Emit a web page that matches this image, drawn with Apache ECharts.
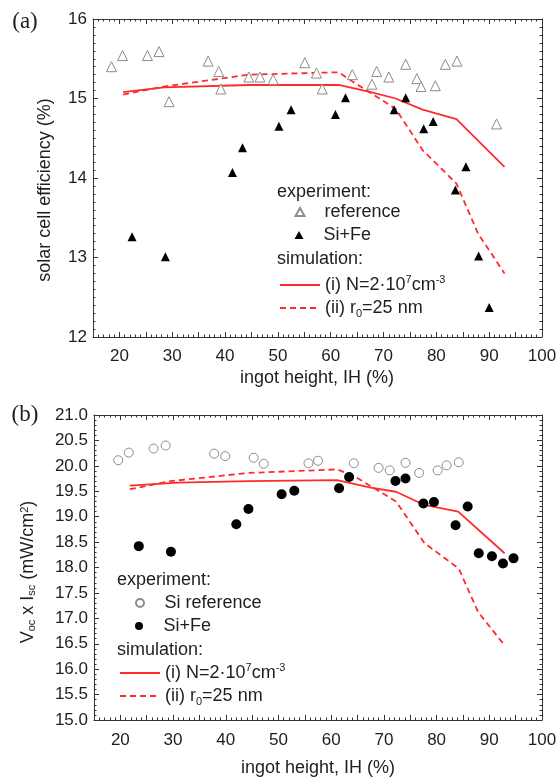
<!DOCTYPE html>
<html>
<head>
<meta charset="utf-8">
<script src="https://cdn.jsdelivr.net/npm/echarts@6/dist/echarts.min.js"></script>
<style>
html,body{margin:0;padding:0;background:#fff;}
#chart{width:559px;height:778px;}
</style>
</head>
<body>
<div id="chart"></div>
<script>
// panel (a): solar cell efficiency vs ingot height
var refAX = [18.5, 20.6, 25.3, 27.5, 29.4, 36.8, 38.8, 39.2, 44.5, 46.6, 49.1, 55.1, 57.3, 58.4, 64.1, 67.8, 68.7, 71.0, 74.2, 76.3, 77.1, 79.8, 81.7, 83.9, 91.4];
var refAY = [15.40, 15.54, 15.54, 15.59, 14.96, 15.47, 15.34, 15.12, 15.27, 15.27, 15.24, 15.45, 15.32, 15.12, 15.30, 15.18, 15.34, 15.27, 15.43, 15.25, 15.15, 15.16, 15.43, 15.47, 14.68];
var feAX = [22.4, 28.7, 41.4, 43.3, 50.2, 52.5, 60.9, 62.8, 72.0, 74.2, 77.6, 79.4, 83.6, 85.6, 88.0, 90.0];
var feAY = [13.26, 13.01, 14.07, 14.38, 14.65, 14.86, 14.80, 15.01, 14.86, 15.01, 14.62, 14.71, 13.85, 14.14, 13.02, 12.37];
var simIAX = [20.7, 28.4, 44.5, 61.5, 67.6, 72.3, 77.4, 83.8, 92.9];
var simIAY = [15.08, 15.14, 15.17, 15.17, 15.08, 15.00, 14.86, 14.74, 14.14];
var simIIAX = [20.7, 28.4, 44.5, 61.5, 64.0, 72.3, 77.4, 83.8, 87.9, 92.9];
var simIIAY = [15.05, 15.15, 15.30, 15.33, 15.22, 14.87, 14.35, 13.93, 13.30, 12.80];

// panel (b): Voc x Isc vs ingot height
var refBX = [19.6, 21.6, 26.3, 28.6, 37.8, 39.9, 45.3, 47.2, 55.7, 57.5, 64.3, 69.0, 71.1, 74.1, 76.7, 80.2, 81.9, 84.2];
var refBY = [20.11, 20.26, 20.34, 20.40, 20.24, 20.19, 20.16, 20.04, 20.05, 20.10, 20.05, 19.96, 19.91, 20.06, 19.86, 19.91, 20.01, 20.07];
var feBX = [23.5, 29.6, 42.0, 44.3, 50.6, 53.0, 61.5, 63.4, 72.2, 74.1, 77.5, 79.5, 83.6, 85.9, 88.0, 90.5, 92.6, 94.6];
var feBY = [18.42, 18.31, 18.85, 19.15, 19.44, 19.51, 19.56, 19.78, 19.70, 19.75, 19.26, 19.29, 18.83, 19.20, 18.28, 18.22, 18.08, 18.18];
var simIBX = [21.8, 30.9, 44.5, 61.1, 67.5, 72.3, 77.7, 84.1, 92.9];
var simIBY = [19.61, 19.67, 19.70, 19.72, 19.57, 19.49, 19.23, 19.10, 18.28];
var simIIBX = [21.8, 29.6, 44.3, 61.2, 64.8, 72.3, 77.7, 84.2, 87.9, 92.9];
var simIIBY = [19.54, 19.70, 19.86, 19.93, 19.77, 19.30, 18.48, 17.98, 17.12, 16.47];

var legendText = {
  refA: '{t|reference}',
  feA: '{t|Si+Fe}',
  refB: '{t|Si reference}',
  feB: '{t|Si+Fe}',
  simIA: '(i) N=2·10{sup|7}cm{sup|-3}',
  simIIA: '(ii) r{sub|0}=25 nm',
  simIB: '(i) N=2·10{sup|7}cm{sup|-3}',
  simIIB: '(ii) r{sub|0}=25 nm'
};

var FONT = "'Liberation Sans', Arial, Helvetica, sans-serif";
var RED = '#ff2b2b';
var GREY = '#8c8c8c';
var AXC = '#333';
var TXT = '#1e1e1e';

var rich = {
  sup: {fontSize: 11, lineHeight: 11, verticalAlign: 'top', fontFamily: FONT, color: TXT},
  sub: {fontSize: 11, lineHeight: 11, verticalAlign: 'bottom', fontFamily: FONT, color: TXT},
  t: {fontSize: 18, lineHeight: 22, padding: [0, 0, 0, 15], fontFamily: FONT, color: TXT}
};

function pairs(xs, ys) {
  return xs.map(function (x, i) { return [x, ys[i]]; });
}

// x axis (bottom with labels, top as mirror frame)
function xAx(grid, pos, labels, margin) {
  return {
    type: 'value', gridIndex: grid, position: pos,
    min: 15, max: 100, interval: 5,
    axisLine: {show: true, onZero: false, lineStyle: {color: AXC, width: 1}},
    axisTick: {show: true, inside: true, length: 5, lineStyle: {color: AXC}},
    minorTick: {show: true, splitNumber: 5, length: 2.5, lineStyle: {color: AXC}},
    splitLine: {show: false},
    axisLabel: {
      show: labels, margin: margin, fontSize: 17, color: TXT, fontFamily: FONT,
      formatter: function (v) { return v % 10 === 0 ? String(v) : ''; }
    }
  };
}

function yAx(grid, pos, labels, min, max, step, minor, fmt) {
  return {
    type: 'value', gridIndex: grid, position: pos,
    min: min, max: max, interval: step,
    axisLine: {show: true, onZero: false, lineStyle: {color: AXC, width: 1}},
    axisTick: {show: true, inside: true, length: 5, lineStyle: {color: AXC}},
    minorTick: {show: true, splitNumber: minor, length: 2.5, lineStyle: {color: AXC}},
    splitLine: {show: false},
    axisLabel: {show: labels, margin: 6, fontSize: 17, color: TXT, fontFamily: FONT, formatter: fmt}
  };
}

// one legend block per row so every row sits where it does in the figure
function markLegend(name, left, top) {
  return {
    data: [name], left: left, top: top, orient: 'vertical', padding: 0,
    itemWidth: 9, itemHeight: 8, selectedMode: false,
    textStyle: {fontSize: 18, lineHeight: 22, color: TXT, fontFamily: FONT, rich: rich},
    formatter: function (n) { return legendText[n]; }
  };
}

function lineLegend(name, left, top) {
  return {
    data: [name], left: left, top: top, orient: 'vertical', padding: 0,
    itemWidth: 40, itemHeight: 8, selectedMode: false,
    itemStyle: {opacity: 0},
    textStyle: {fontSize: 18, lineHeight: 22, color: TXT, fontFamily: FONT, rich: rich},
    formatter: function (n) { return legendText[n]; }
  };
}

function label(text, x, y, size, rot, family) {
  return {
    type: 'text', x: x, y: y, rotation: rot || 0, silent: true,
    style: {
      text: text, fill: TXT, fontSize: size, fontFamily: family || FONT,
      align: rot ? 'center' : 'left', verticalAlign: 'middle',
      rich: {
        sup: {fontSize: 11, lineHeight: 11, verticalAlign: 'top', fontFamily: FONT, fill: TXT},
        sub: {fontSize: 11, lineHeight: 11, verticalAlign: 'bottom', fontFamily: FONT, fill: TXT}
      }
    }
  };
}

function centered(text, x, y, size, family) {
  var t = label(text, x, y, size, 0, family);
  t.style.align = 'center';
  return t;
}

var chart = echarts.init(document.getElementById('chart'), null, {renderer: 'canvas'});

var option = {
  animation: false,
  backgroundColor: '#fff',
  grid: [
    {left: 93, top: 19, width: 449, height: 318, outerBoundsMode: 'none'},
    {left: 94, top: 415, width: 448, height: 305, outerBoundsMode: 'none'}
  ],
  xAxis: [
    xAx(0, 'bottom', true, 11),
    xAx(0, 'top', false, 0),
    xAx(1, 'bottom', true, 12),
    xAx(1, 'top', false, 0)
  ],
  yAxis: [
    yAx(0, 'left', true, 12, 16, 1, 10, function (v) { return String(v); }),
    yAx(0, 'right', false, 12, 16, 1, 10),
    yAx(1, 'left', true, 15, 21, 0.5, 5, function (v) { return v.toFixed(1); }),
    yAx(1, 'right', false, 15, 21, 0.5, 5)
  ],
  legend: [
    markLegend('refA', 294.5, 201),
    markLegend('feA', 294.5, 224),
    lineLegend('simIA', 279, 274),
    lineLegend('simIIA', 279, 297),
    markLegend('refB', 135, 592),
    markLegend('feB', 135, 615),
    lineLegend('simIB', 119, 662),
    lineLegend('simIIB', 119, 685)
  ],
  graphic: [
    centered('(a)', 25, 22, 23, "'Liberation Serif', 'Times New Roman', serif"),
    centered('(b)', 25, 415, 23, "'Liberation Serif', 'Times New Roman', serif"),
    label('solar cell efficiency (%)', 45, 190, 18, Math.PI / 2),
    label('V{sub|oc} x I{sub|sc} (mW/cm{sup|2})', 28, 572, 18, Math.PI / 2),
    centered('ingot height, IH (%)', 317, 378, 18),
    centered('ingot height, IH (%)', 318, 768, 18),
    label('experiment:', 277, 192, 18),
    label('simulation:', 277, 259, 18),
    label('experiment:', 117, 580, 18),
    label('simulation:', 117, 650, 18)
  ],
  series: [
    {name: 'simIA', type: 'line', xAxisIndex: 0, yAxisIndex: 0, data: pairs(simIAX, simIAY),
      symbol: 'none', lineStyle: {color: RED, width: 1.8}, itemStyle: {color: RED}, z: 2},
    {name: 'simIIA', type: 'line', xAxisIndex: 0, yAxisIndex: 0, data: pairs(simIIAX, simIIAY),
      symbol: 'none', lineStyle: {color: RED, width: 1.8, type: [6, 4]}, itemStyle: {color: RED}, z: 2},
    {name: 'refA', type: 'scatter', xAxisIndex: 0, yAxisIndex: 0, data: pairs(refAX, refAY),
      symbol: 'triangle', symbolSize: 10,
      itemStyle: {color: '#fff', borderColor: GREY, borderWidth: 1, opacity: 1}, z: 3},
    {name: 'feA', type: 'scatter', xAxisIndex: 0, yAxisIndex: 0, data: pairs(feAX, feAY),
      symbol: 'triangle', symbolSize: 9, itemStyle: {color: '#000', opacity: 1}, z: 3},

    {name: 'simIB', type: 'line', xAxisIndex: 2, yAxisIndex: 2, data: pairs(simIBX, simIBY),
      symbol: 'none', lineStyle: {color: RED, width: 1.8}, itemStyle: {color: RED}, z: 2},
    {name: 'simIIB', type: 'line', xAxisIndex: 2, yAxisIndex: 2, data: pairs(simIIBX, simIIBY),
      symbol: 'none', lineStyle: {color: RED, width: 1.8, type: [6, 4]}, itemStyle: {color: RED}, z: 2},
    {name: 'refB', type: 'scatter', xAxisIndex: 2, yAxisIndex: 2, data: pairs(refBX, refBY),
      symbol: 'circle', symbolSize: 9,
      itemStyle: {color: '#fff', borderColor: GREY, borderWidth: 1, opacity: 1}, z: 3},
    {name: 'feB', type: 'scatter', xAxisIndex: 2, yAxisIndex: 2, data: pairs(feBX, feBY),
      symbol: 'circle', symbolSize: 10, itemStyle: {color: '#000', opacity: 1}, z: 3}
  ]
};

chart.setOption(option);
</script>
</body>
</html>
